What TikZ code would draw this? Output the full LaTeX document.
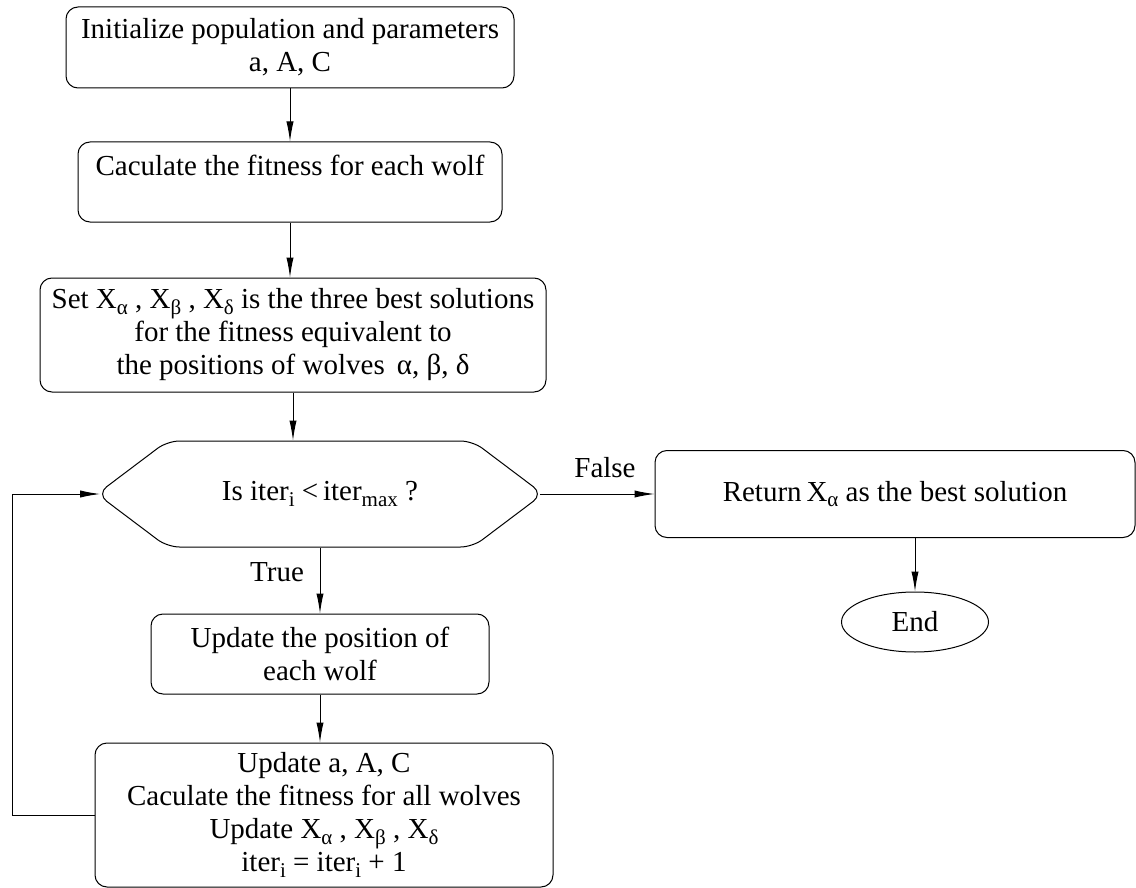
\documentclass[tikz,border=0pt]{standalone}
\usepackage{fontspec}
\setmainfont{Liberation Serif}
\usetikzlibrary{arrows.meta,shapes.geometric,shapes.symbols}
\newcommand{\lowidx}[1]{\raisebox{-0.4ex}{\fontsize{10.5}{10.5}\selectfont #1}}

\begin{document}
\begin{tikzpicture}[x=0.5pt,y=-0.5pt,line width=0.5pt,>={Latex[length=10pt,width=3.6pt]},
  every node/.style={font=\fontsize{14.5}{16.5}\selectfont},
  stepbox/.style={draw,rounded corners=6pt,align=center,inner sep=0pt},
  decision/.style={draw,shape=signal,signal to=west and east,signal pointer angle=74,rounded corners=6pt,inner sep=0pt},
  terminal/.style={draw,ellipse,inner sep=0pt}]
\useasboundingbox (0,0) rectangle (1136,888);
\node[stepbox,minimum width=224pt,minimum height=40.5pt] (init) at (290,47.5) {Initialize population and parameters\\ a, A, C};
\node[stepbox,minimum width=212pt,minimum height=40pt] (fit) at (290,182) {Caculate the fitness for each wolf\\ \mbox{}};
\node[stepbox,minimum width=253pt,minimum height=57pt] (best) at (293,335) {Set X\lowidx{α} , X\lowidx{β} , X\lowidx{δ} is the three best solutions\\ for the fitness equivalent to\\ the positions of wolves \,α, β, δ};
\node[decision,minimum width=223pt,minimum height=53pt] (cond) at (320,494) {Is iter\lowidx{i} <\,iter\lowidx{max} ?};
\node[stepbox,minimum width=240pt,minimum height=43.5pt] (ret) at (895,494) {Return\,X\lowidx{α} as the best solution};
\node[terminal,minimum width=73.5pt,minimum height=30pt] (end) at (915,622) {End};
\node[stepbox,minimum width=169pt,minimum height=40pt] (pos) at (320,654) {Update the position of\\ each wolf};
\node[stepbox,minimum width=229pt,minimum height=72pt] (upd) at (324,815) {Update a, A, C\\ Caculate the fitness for all wolves\\ Update X\lowidx{α} , X\lowidx{β} , X\lowidx{δ}\\ iter\lowidx{i} = iter\lowidx{i} + 1};
\node (false) at (605,468) {False};
\node (true) at (277,572) {True};
\coordinate (back) at (12,815);
\draw[->] (init.south) -- (fit.north);
\draw[->] (fit.south) -- (fit.south |- best.north);
\draw[->] (best.south) -- (best.south |- cond.north);
\draw[->,shorten <=-2pt] (cond.east) -- (ret.west);
\draw[->] (end |- ret.south) -- (end.north);
\draw[->] (cond.south) -- (pos.north);
\draw[->] (pos.south) -- (pos.south |- upd.north);
\draw[->,shorten >=-2pt] (upd.west) -- (back) |- (cond.west);
\end{tikzpicture}
\end{document}
